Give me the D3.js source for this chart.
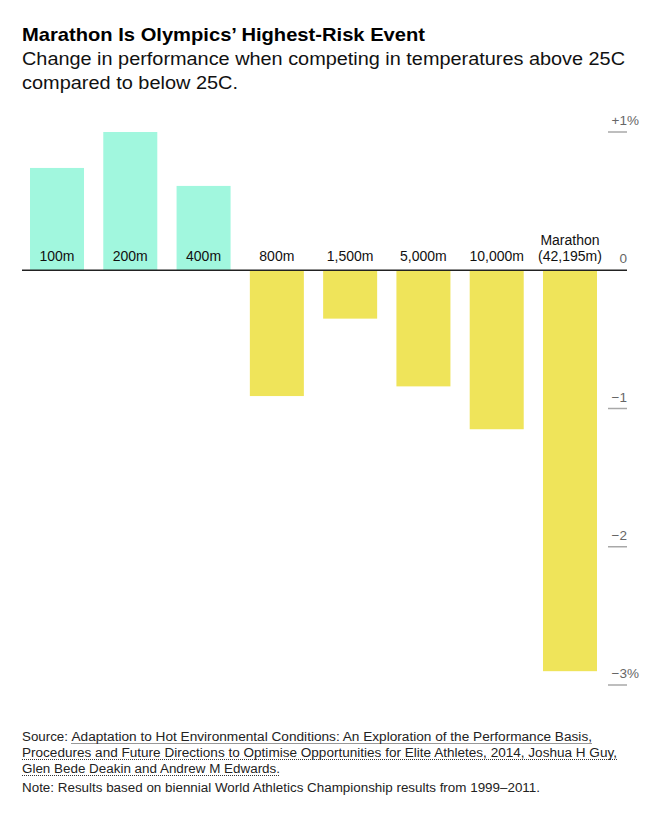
<!DOCTYPE html>
<html>
<head>
<meta charset="utf-8">
<script src="https://cdn.jsdelivr.net/npm/d3@7"></script>
<style>
  html, body { margin: 0; padding: 0; background: #fff; }
  svg { display: block; font-family: "Liberation Sans", Arial, sans-serif; }
</style>
</head>
<body>
<svg id="chart" width="665" height="825"></svg>
<script>
// ---- data ----
const categories = ["100m", "200m", "400m", "800m", "1,500m", "5,000m", "10,000m", "Marathon"];
const categoryLabels = [["100m"], ["200m"], ["400m"], ["800m"], ["1,500m"], ["5,000m"], ["10,000m"], ["Marathon", "(42,195m)"]];
const values = [0.74, 1.0, 0.61, -0.91, -0.35, -0.84, -1.15, -2.90];
const tickValues = [1, 0, -1, -2, -3];
const tickLabels = ["+1", "0", "\u22121", "\u22122", "\u22123"];
const tickSuffix = ["%", "", "", "", "%"];

const title = "Marathon Is Olympics\u2019 Highest-Risk Event";
const subtitleLines = ["Change in performance when competing in temperatures above 25C", "compared to below 25C."];
const sourceLines = [
  "Adaptation to Hot Environmental Conditions: An Exploration of the Performance Basis,",
  "Procedures and Future Directions to Optimise Opportunities for Elite Athletes, 2014, Joshua H Guy,",
  "Glen Bede Deakin and Andrew M Edwards."
];
const note = "Note: Results based on biennial World Athletics Championship results from 1999\u20132011.";

// ---- layout ----
const svg = d3.select("#chart");
const posColor = "#a1f7de", negColor = "#efe45a";

const x = d3.scaleBand().domain(categories).range([30, 597]).paddingInner(0.263).paddingOuter(0);
const y = d3.scaleLinear().domain([1, -3]).range([132, 685]);

function fitText(sel, target) {
  const node = sel.node();
  const w = node.getComputedTextLength();
  if (Math.abs(w - target) > 2) sel.attr("textLength", target).attr("lengthAdjust", "spacingAndGlyphs");
}

// title
const t = svg.append("text").attr("x", 22).attr("y", 41)
  .attr("font-size", 19).attr("font-weight", "bold").attr("fill", "#000").text(title);
fitText(t, 403);

const subTargets = [603, 216];
subtitleLines.forEach((line, i) => {
  const s = svg.append("text").attr("x", 22).attr("y", 65 + i * 23.5)
    .attr("font-size", 17.5).attr("fill", "#111").text(line);
  fitText(s, subTargets[i]);
});

// bars
svg.append("g").selectAll("rect").data(values).join("rect")
  .attr("x", (d, i) => x(categories[i]))
  .attr("width", x.bandwidth())
  .attr("y", d => y(Math.max(0, d)))
  .attr("height", d => Math.abs(y(d) - y(0)))
  .attr("fill", d => d >= 0 ? posColor : negColor);

// ticks
const ticks = svg.append("g");
tickValues.forEach((v, i) => {
  if (v !== 0) {
    ticks.append("line").attr("x1", 608).attr("x2", 627)
      .attr("y1", y(v)).attr("y2", y(v))
      .attr("stroke", "#a8a8a8").attr("stroke-width", 1.5);
  }
  ticks.append("text").attr("x", 627).attr("y", y(v) - 7)
    .attr("text-anchor", "end").attr("font-size", 13.5).attr("fill", "#666")
    .text(tickLabels[i]);
  if (tickSuffix[i]) {
    ticks.append("text").attr("x", 627).attr("y", y(v) - 7)
      .attr("font-size", 13.5).attr("fill", "#666").text(tickSuffix[i]);
  }
});

// baseline
svg.append("line").attr("x1", 22).attr("x2", 627)
  .attr("y1", y(0)).attr("y2", y(0))
  .attr("stroke", "#222").attr("stroke-width", 1.5);

// category labels
const lab = svg.append("g");
categoryLabels.forEach((lines, i) => {
  const cx = x(categories[i]) + x.bandwidth() / 2;
  lines.forEach((ln, j) => {
    lab.append("text").attr("x", cx)
      .attr("y", y(0) - 9 - (lines.length - 1 - j) * 16)
      .attr("text-anchor", "middle").attr("font-size", 14).attr("fill", "#111")
      .text(ln);
  });
});

// footer
const fs = 12.5;
const foot = svg.append("g").attr("fill", "#222").attr("font-size", fs);
const src = foot.append("text").attr("x", 22).attr("y", 741).text("Source:");
fitText(src, 46);
const sourceStarts = [71.5, 22, 22];
const sourceEnds = [592, 617, 280];
const sourceY = [741, 757, 773];
sourceLines.forEach((line, i) => {
  const s = foot.append("text").attr("x", sourceStarts[i]).attr("y", sourceY[i]).text(line);
  fitText(s, sourceEnds[i] - sourceStarts[i]);
  foot.append("line").attr("x1", sourceStarts[i]).attr("x2", sourceEnds[i])
    .attr("y1", sourceY[i] + 2.5).attr("y2", sourceY[i] + 2.5)
    .attr("stroke", "#333").attr("stroke-width", 1).attr("stroke-dasharray", "1,1");
});
const n = foot.append("text").attr("x", 22).attr("y", 792).text(note);
fitText(n, 540 - 22);
</script>
</body>
</html>
